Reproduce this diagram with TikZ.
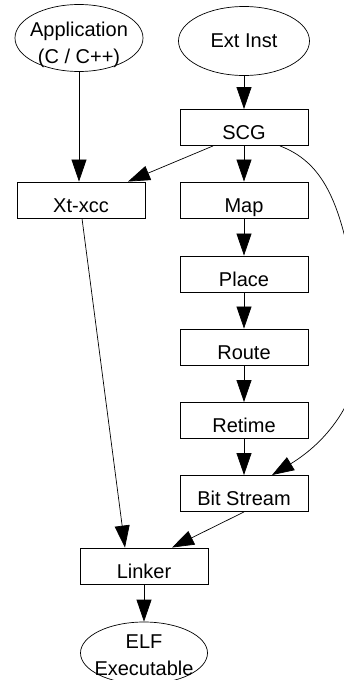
\documentclass[tikz,border=0pt]{standalone}
\usepackage{fontspec}
\setmainfont{Liberation Sans}
\usetikzlibrary{shapes.geometric,arrows.meta}
\tikzset{
	stagebox/.style={draw, line width=0.9pt, minimum width=128pt, minimum height=36pt, inner sep=0pt,
		text height=26pt, text depth=2pt},
	termell/.style={draw, ellipse, line width=0.7pt, inner sep=0pt, align=center},
	flow/.style={line width=0.7pt, -{Triangle[length=22pt, width=15pt]}}
}

\begin{document}
\begin{tikzpicture}[x=1pt, y=1pt, font=\fontsize{20}{27}\selectfont]
			%%%%% START %%%%%
			\useasboundingbox (0, 0) rectangle (343, -680);
			
			\node[termell, minimum width=128pt, minimum height=67pt,
				label={[align=center, yshift=-7pt]center:Application\\(C / C++)}] (app) at (79, -38) {};
			\node[termell, minimum width=131pt, minimum height=69pt] (ext) at (244, -41) {Ext Inst};
			
			\node[stagebox] (scg) at (244, -127.5) {SCG};
			\node[stagebox] (xcc) at (81, -200) {Xt-xcc\hspace{16pt}};
			\node[stagebox] (map) at (244, -200) {Map};
			\node[stagebox] (place) at (244, -274) {Place};
			\node[stagebox] (route) at (244, -347) {Route};
			\node[stagebox] (retime) at (244, -420.5) {Retime};
			\node[stagebox] (bits) at (244, -493.5) {Bit Stream};
			\node[stagebox] (link) at (144, -566) {Linker\hspace{18pt}};
			
			\node[termell, minimum width=127pt, minimum height=62pt,
				label={[align=center, yshift=-2pt]center:ELF\\Executable}] (elf) at (144, -653) {};
			
			\coordinate (loop) at (360, -320);
			
			\draw[flow] (app.south) -- (app.south |- xcc.north);
			\draw[flow] (ext) -- (scg);
			\draw[flow] ([xshift=-31pt]scg.south) -- ([xshift=47pt]xcc.north);
			\draw[flow] (scg) -- (map);
			\draw[flow] (map) -- (place);
			\draw[flow] (place) -- (route);
			\draw[flow] (route) -- (retime);
			\draw[flow] (retime) -- (bits);
			\draw[flow] ([xshift=36pt]scg.south) .. controls (330, -165) and (345, -215) .. (loop)
				.. controls (370, -390) and (330, -440) .. ([xshift=28pt]bits.north);
			\draw[flow] ([xshift=1pt]xcc.south) -- ([xshift=-19pt]link.north);
			\draw[flow] (bits.south) -- ([xshift=28pt]link.north);
			\draw[flow] (link) -- (elf);
			
			%%%%% END %%%%%
\end{tikzpicture}
\end{document}
